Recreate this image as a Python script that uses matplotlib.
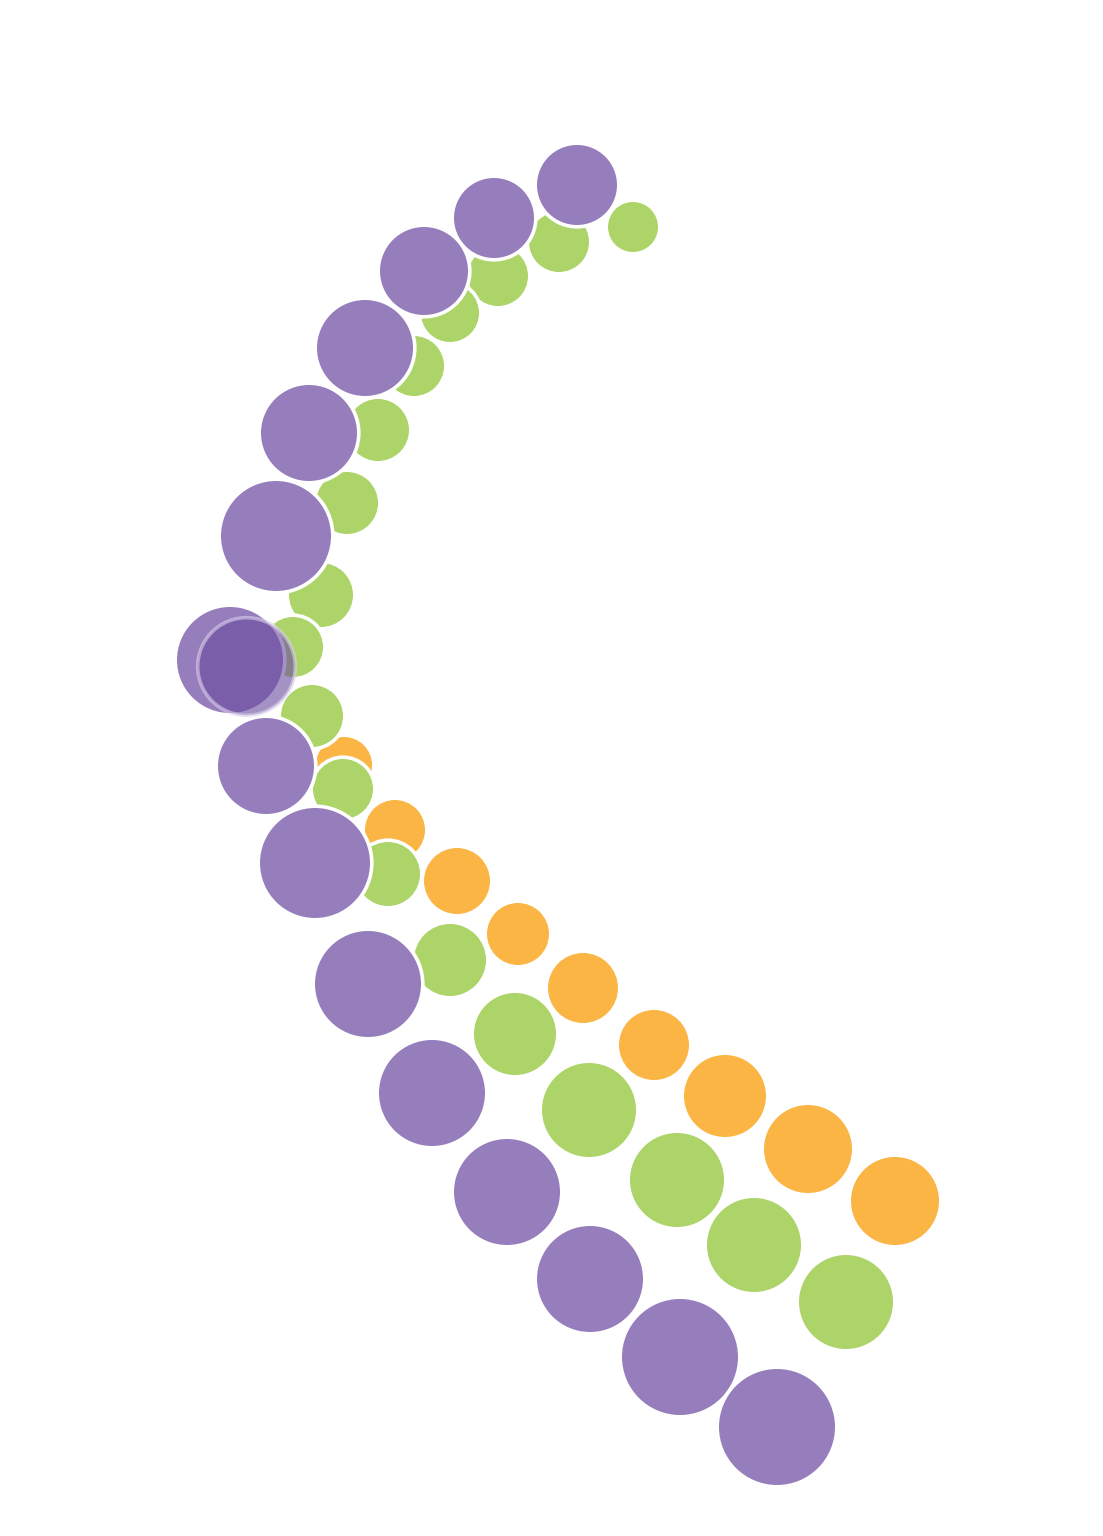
import matplotlib
matplotlib.use("Agg")
import matplotlib.pyplot as plt

# bubble centres (x, y) and radii, in chart units (y grows downwards)
purple_x = [577, 494, 424, 365, 309, 276, 230, 266, 315, 368, 432, 507, 590, 680, 777]
purple_y = [185, 218, 271, 348, 433, 536, 660, 766, 863, 984, 1093, 1192, 1279, 1357, 1427]
purple_r = [40, 40, 44, 48, 48, 55, 53, 48, 55, 53, 53, 53, 53, 58, 58]

green_x = [633, 559, 498, 450, 414, 378, 347, 321, 293, 312, 343, 388, 450, 515, 589, 677, 754, 846]
green_y = [227, 242, 276, 313, 366, 430, 503, 595, 647, 716, 789, 874, 960, 1034, 1110, 1180, 1245, 1302]
green_r = [25, 30, 30, 29, 30, 31, 31, 32, 30, 31, 30, 32, 36, 41, 47, 47, 47, 47]

orange_x = [344, 395, 457, 518, 583, 654, 725, 808, 895]
orange_y = [765, 830, 881, 934, 988, 1045, 1096, 1149, 1201]
orange_r = [28, 30, 33, 31, 35, 35, 41, 44, 44]

# highlighted (hovered) purple bubble
hi_x = [246]
hi_y = [666]
hi_r = [47]

W, H, DPI = 1103, 1536, 100
EDGE = 2.6  # white outline, points


def sizes(radii):
    # marker area in points^2, outline drawn half outside the fill
    return [(2 * (r + EDGE * DPI / 72 / 2) * 72 / DPI) ** 2 for r in radii]


def main():
    fig = plt.figure(figsize=(W / DPI, H / DPI), dpi=DPI)
    ax = fig.add_axes([0, 0, 1, 1])

    ax.scatter(orange_x, orange_y, s=sizes(orange_r), color="#FBB545",
               edgecolors="white", linewidths=EDGE, zorder=2)
    ax.scatter(green_x, green_y, s=sizes(green_r), color="#ACD468",
               edgecolors="white", linewidths=EDGE, zorder=3)
    ax.scatter(purple_x, purple_y, s=sizes(purple_r), color="#967EBC",
               edgecolors="white", linewidths=EDGE, zorder=4)
    ax.scatter(hi_x, hi_y, s=sizes(hi_r), color="#6A4A9E", alpha=0.6,
               edgecolors=(0.86, 0.82, 0.93, 0.45), linewidths=EDGE, zorder=5)

    ax.set_xlim(0, W)
    ax.set_ylim(H, 0)
    ax.axis("off")

    fig.savefig("out.png", dpi=DPI, facecolor="white")


if __name__ == "__main__":
    main()
